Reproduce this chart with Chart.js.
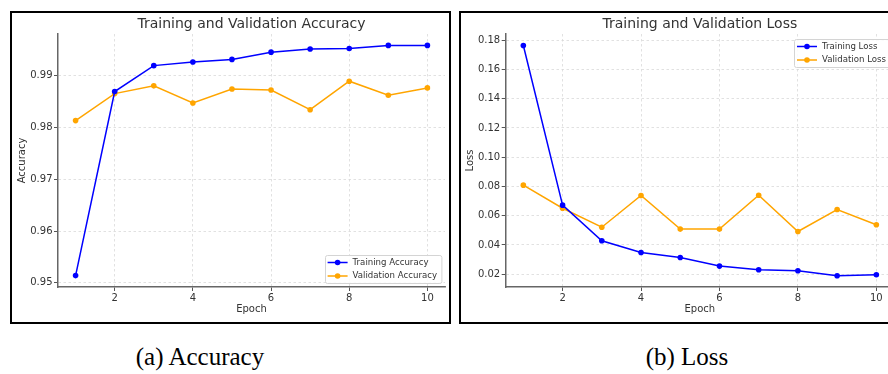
<!DOCTYPE html>
<html>
<head>
<meta charset="utf-8">
<script src="https://cdn.jsdelivr.net/npm/chart.js@4.4.1/dist/chart.umd.min.js"></script>
<style>
html, body { margin: 0; padding: 0; background: #fff; width: 888px; height: 374px; overflow: hidden; }
body { position: relative; }
.wrap { position: absolute; top: 0; height: 330px; }
.panel { position: absolute; top: 11px; width: 441px; height: 313px; border: 2px solid #000; box-sizing: border-box; pointer-events: none; }
.caption { position: absolute; top: 344px; width: 300px; text-align: center; line-height: 25px;
  font-family: "Liberation Serif", "Times New Roman", serif; font-size: 25px; color: #000; }
</style>
</head>
<body>
<div class="wrap" style="left:0;width:455px"><canvas id="chart-acc" width="455" height="330"></canvas></div>
<div class="wrap" style="left:455px;width:445px"><canvas id="chart-loss" width="445" height="330"></canvas></div>
<div class="panel" style="left:10px"></div>
<div class="panel" style="left:459px"></div>
<div class="caption" style="left:50px">(a) Accuracy</div>
<div class="caption" style="left:537px">(b) Loss</div>
<script>
'use strict';

const epochs = [1, 2, 3, 4, 5, 6, 7, 8, 9, 10];
const trainAcc = [0.9514, 0.9869, 0.9919, 0.9926, 0.9931, 0.9945, 0.9951, 0.9952, 0.9958, 0.9958];
const valAcc = [0.9813, 0.9865, 0.9880, 0.9847, 0.9874, 0.9872, 0.9834, 0.9889, 0.9862, 0.9876];
const trainLoss = [0.1764, 0.0672, 0.0428, 0.0348, 0.0314, 0.0255, 0.0230, 0.0223, 0.0189, 0.0196];
const valLoss = [0.0809, 0.0651, 0.0521, 0.0738, 0.0508, 0.0508, 0.0740, 0.0492, 0.0642, 0.0538];
const epochTicks = [2, 4, 6, 8, 10];
const accTicks = [0.95, 0.96, 0.97, 0.98, 0.99];
const lossTicks = [0.02, 0.04, 0.06, 0.08, 0.10, 0.12, 0.14, 0.16, 0.18];

const BLUE = '#0000ff';
const ORANGE = '#ffa500';
const TEXT = '#333';
const FONT = 'DejaVu Sans';

// title centred over the plot area, like matplotlib does
const plotTitle = {
    id: 'plotTitle',
    afterDraw(chart, args, opts) {
        const {ctx, chartArea} = chart;
        ctx.save();
        ctx.font = `14px "${FONT}"`;
        ctx.fillStyle = TEXT;
        ctx.textAlign = 'center';
        ctx.textBaseline = 'middle';
        ctx.fillText(opts.text, (chartArea.left + chartArea.right) / 2, 24);
        ctx.restore();
    }
};

// matplotlib style legend drawn inside the plot area
const boxLegend = {
    id: 'boxLegend',
    afterDatasetsDraw(chart, args, opts) {
        const {ctx, chartArea} = chart;
        const sets = chart.data.datasets;
        ctx.save();
        ctx.font = `8.6px "${FONT}"`;
        const textW = Math.max(...sets.map(d => ctx.measureText(d.label).width));
        const w = 28 + textW + 4, h = 28;
        const left = chartArea.right - 4 - w;
        const top = opts.corner === 'lower' ? chartArea.bottom - 4 - h : chartArea.top + 5;
        ctx.beginPath();
        ctx.roundRect(Math.round(left) + 0.5, Math.round(top) + 0.5, w, h, 2);
        ctx.fillStyle = 'rgba(255,255,255,0.85)';
        ctx.fill();
        ctx.strokeStyle = '#d4d4d4';
        ctx.lineWidth = 1;
        ctx.stroke();
        sets.forEach((d, i) => {
            const y = top + 7.5 + i * 13.5;
            ctx.strokeStyle = d.borderColor;
            ctx.lineWidth = 1.5;
            ctx.beginPath();
            ctx.moveTo(left + 3, y);
            ctx.lineTo(left + 23, y);
            ctx.stroke();
            ctx.fillStyle = d.borderColor;
            ctx.beginPath();
            ctx.arc(left + 13, y, 2.8, 0, Math.PI * 2);
            ctx.fill();
            ctx.fillStyle = TEXT;
            ctx.textAlign = 'left';
            ctx.textBaseline = 'middle';
            ctx.fillText(d.label, left + 28, y);
        });
        ctx.restore();
    }
};

function series(label, values, color) {
    return {
        label: label,
        data: values.map((v, i) => ({x: epochs[i], y: v})),
        borderColor: color,
        backgroundColor: color,
        borderWidth: 1.5,
        pointRadius: 2.8,
        pointBorderWidth: 0,
        pointBackgroundColor: color,
        tension: 0
    };
}

function makeChart(id, cfg) {
    const grid = {color: '#d9d9d9', lineWidth: 0.8, tickColor: '#555', tickLength: 4, tickWidth: 1};
    const border = {display: true, color: '#666', width: 1.5, dash: [2.5, 2.5]};
    return new Chart(document.getElementById(id).getContext('2d'), {
        type: 'line',
        data: {
            datasets: [
                series(cfg.labels[0], cfg.train, BLUE),
                series(cfg.labels[1], cfg.val, ORANGE)
            ]
        },
        options: {
            responsive: false,
            animation: false,
            devicePixelRatio: 1,
            layout: {padding: {left: 0, right: cfg.padRight, top: 34, bottom: 0}},
            plugins: {
                legend: {display: false},
                tooltip: {enabled: false},
                title: {display: false},
                plotTitle: {text: cfg.title},
                boxLegend: {corner: cfg.corner}
            },
            scales: {
                x: {
                    type: 'linear',
                    min: 0.55,
                    max: 10.45,
                    afterBuildTicks: s => { s.ticks = epochTicks.map(v => ({value: v})); },
                    afterFit: s => { s.height = 43; },
                    ticks: {color: TEXT, font: {family: FONT, size: 10}, padding: 1, maxRotation: 0},
                    grid: grid,
                    border: border,
                    title: {display: true, text: 'Epoch', color: TEXT, font: {family: FONT, size: 10}, padding: {top: 0, bottom: 14.7}}
                },
                y: {
                    type: 'linear',
                    min: cfg.yMin,
                    max: cfg.yMax,
                    afterBuildTicks: s => { s.ticks = cfg.yTicks.map(v => ({value: v})); },
                    afterFit: s => { s.width = cfg.yWidth; },
                    ticks: {color: TEXT, font: {family: FONT, size: 10}, padding: 1.5, callback: v => v.toFixed(2)},
                    grid: grid,
                    border: border,
                    title: {display: true, text: cfg.yLabel, color: TEXT, font: {family: FONT, size: 10}, padding: {top: cfg.yTitlePad, bottom: 0}}
                }
            }
        },
        plugins: [plotTitle, boxLegend]
    });
}

makeChart('chart-acc', {
    title: 'Training and Validation Accuracy',
    labels: ['Training Accuracy', 'Validation Accuracy'],
    train: trainAcc,
    val: valAcc,
    yMin: 0.9492,
    yMax: 0.998,
    yTicks: accTicks,
    yLabel: 'Accuracy',
    yWidth: 58,
    yTitlePad: 16,
    padRight: 10,
    corner: 'lower'
});

makeChart('chart-loss', {
    title: 'Training and Validation Loss',
    labels: ['Training Loss', 'Validation Loss'],
    train: trainLoss,
    val: valLoss,
    yMin: 0.0112,
    yMax: 0.1843,
    yTicks: lossTicks,
    yLabel: 'Loss',
    yWidth: 50.7,
    yTitlePad: 9.7,
    padRight: 6,
    corner: 'upper'
});
</script>
</body>
</html>
